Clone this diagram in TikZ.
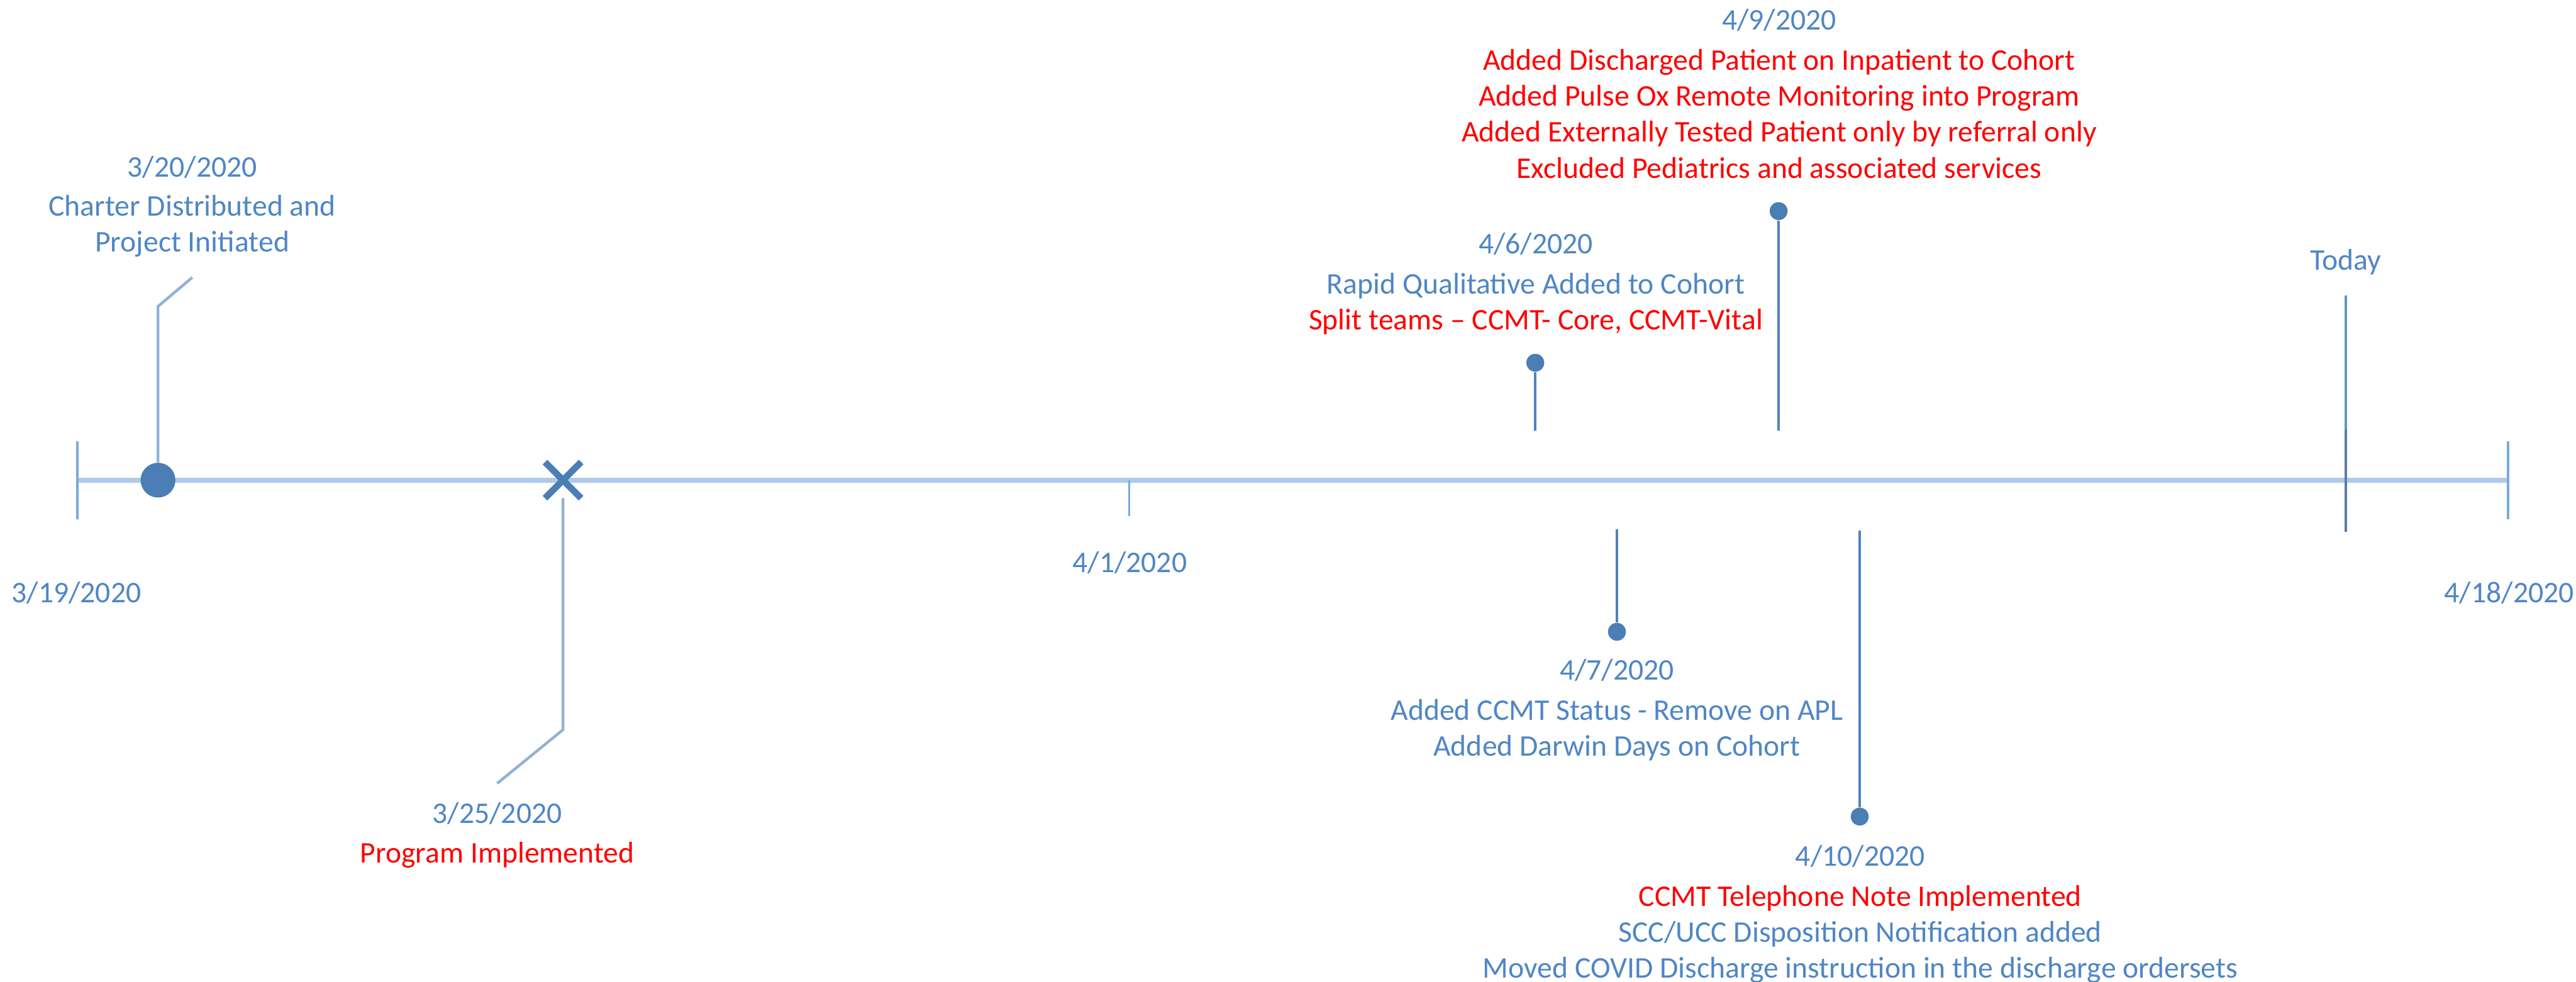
\documentclass[tikz,border=0pt]{standalone}
\usepackage{fontspec}
\setmainfont{Carlito}
\usepackage{xcolor}
\usepackage{tikz}
\usetikzlibrary{shapes.misc}

\definecolor{axisblue}{RGB}{173,203,232}
\definecolor{tickblue}{RGB}{120,170,220}
\definecolor{markblue}{RGB}{74,126,181}
\definecolor{pinblue}{RGB}{80,130,188}
\definecolor{leadblue}{RGB}{142,178,214}
\definecolor{txtblue}{RGB}{79,134,198}
\definecolor{todayblue}{RGB}{98,148,196}
\definecolor{todaydark}{RGB}{88,126,168}

\newcommand{\redtxt}[1]{\textcolor{red}{#1}}

\tikzset{
  evt/.style={align=center, inner sep=0pt, text=txtblue,
    font=\fontsize{16.2}{19.4}\selectfont},
  pindot/.style={circle, fill=markblue, inner sep=0pt, minimum size=0.34cm},
  pinline/.style={pinblue, line width=1.4pt},
  leadline/.style={leadblue, line width=1.5pt},
  endtick/.style={tickblue, line width=1.3pt},
}

\begin{document}
\begin{tikzpicture}
\useasboundingbox (0,0) rectangle (48.91,18.65);

% time axis
\coordinate (t0) at (1.47,9.53);
\coordinate (t1) at (47.62,9.53);
\coordinate (apr1) at (21.44,9.53);
\draw[axisblue, line width=2.8pt] (t0) -- (t1);
\draw[endtick] ([yshift=-0.74cm]t0) -- ([yshift=0.74cm]t0);
\draw[endtick] ([yshift=-0.74cm]t1) -- ([yshift=0.74cm]t1);
\draw[endtick] (apr1) -- ++(0,-0.68);
\node[evt, anchor=base] (lbl0) at (1.45,7.20) {3/19/2020};
\node[evt, anchor=base] (lbl1) at (21.45,7.78) {4/1/2020};
\node[evt, anchor=base] (lbl2) at (47.64,7.20) {4/18/2020};

% milestones on the axis
\node[circle, fill=markblue, inner sep=0pt, minimum size=0.66cm] (start) at (3.00,9.53) {};
\coordinate (k1) at (3.00,12.83);
\coordinate (k2) at (3.65,13.38);
\draw[leadline] (start) -- (k1) -- (k2);
\node[evt, anchor=north] (ev1) at (3.65,15.69)
  {3/20/2020\\[0.06cm] Charter Distributed and\\ Project Initiated};

\node[cross out, draw=markblue, line width=3.6pt, minimum size=0.56cm, inner sep=0pt] (impl) at (10.69,9.53) {};
\coordinate (k3) at (10.69,4.79);
\coordinate (k4) at (9.44,3.77);
\draw[leadline] (impl) -- (k3) -- (k4);
\node[evt, anchor=north] (ev2) at (9.44,3.41)
  {3/25/2020\\[0.06cm] \redtxt{Program Implemented}};

% pins above
\node[pindot] (d6) at (29.15,11.76) {};
\coordinate (p6) at (29.15,10.47);
\draw[pinline] (p6) -- (d6);
\node[evt, anchor=north] (ev6) at (29.16,14.23)
  {4/6/2020\\[0.08cm] Rapid Qualitative Added to Cohort\\
   \redtxt{Split teams -- CCMT- Core, CCMT-Vital}};

\node[pindot] (d9) at (33.77,14.64) {};
\coordinate (p9) at (33.77,10.47);
\draw[pinline] (p9) -- (d9);
\node[evt, anchor=north] (ev9) at (33.78,18.48)
  {4/9/2020\\[0.08cm] \redtxt{Added Discharged Patient on Inpatient to Cohort}\\
   \redtxt{Added Pulse Ox Remote Monitoring into Program}\\
   \redtxt{Added Externally Tested Patient only by referral only}\\
   \redtxt{Excluded Pediatrics and associated services}};

% pins below
\node[pindot] (d7) at (30.70,6.65) {};
\coordinate (p7) at (30.70,8.60);
\draw[pinline] (p7) -- (d7);
\node[evt, anchor=north] (ev7) at (30.70,6.14)
  {4/7/2020\\[0.08cm] Added CCMT Status - Remove on APL\\ Added Darwin Days on Cohort};

\node[pindot] (d10) at (35.31,3.14) {};
\coordinate (p10) at (35.31,8.57);
\draw[pinline] (p10) -- (d10);
\node[evt, anchor=north] (ev10) at (35.32,2.60)
  {4/10/2020\\[0.08cm] \redtxt{CCMT Telephone Note Implemented}\\
   SCC/UCC Disposition Notification added\\
   Moved COVID Discharge instruction in the discharge ordersets};

% today
\coordinate (td0) at (44.54,13.04);
\coordinate (td1) at (44.54,10.49);
\coordinate (td2) at (44.54,8.55);
\draw[todayblue, line width=1.4pt] (td0) -- (td2);
\draw[todaydark, line width=1.4pt] (td1) -- (td2);
\node[evt, anchor=base] (today) at (44.54,13.52) {Today};
\end{tikzpicture}
\end{document}
